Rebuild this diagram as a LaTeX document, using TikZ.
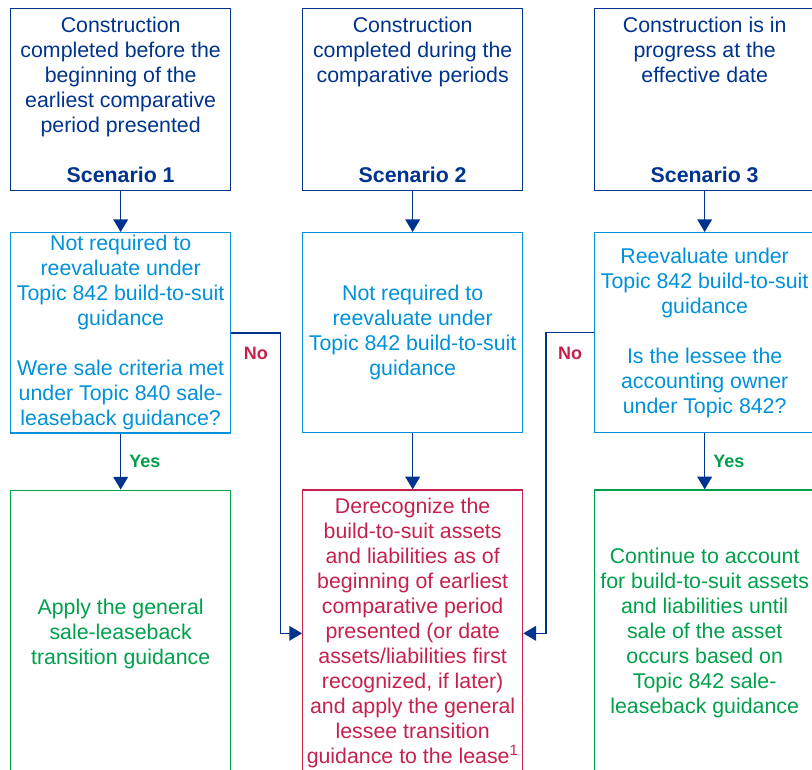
\documentclass[tikz,border=0pt]{standalone}
\usepackage{fontspec}
\setmainfont{Liberation Sans}
\usetikzlibrary{arrows.meta,positioning}
\definecolor{scenblue}{HTML}{00338D}
\definecolor{evalblue}{HTML}{0091DA}
\definecolor{derecred}{HTML}{C6214C}
\definecolor{applygreen}{HTML}{00A04B}
\begin{document}
\begin{tikzpicture}[>={Triangle[width=11pt,length=9.5pt]}, node distance=30.5pt and 53pt, every node/.style={font=\fontsize{16}{18.75}\selectfont},
  box/.style={draw, line width=1pt, align=center, minimum width=165pt, inner sep=2pt},
  scen/.style={box, draw=scenblue, text=scenblue, minimum height=136.5pt},
  evalbox/.style={box, draw=evalblue, text=evalblue, minimum height=150pt},
  derec/.style={box, draw=derecred, text=derecred, minimum height=215pt},
  apply/.style={box, draw=applygreen, text=applygreen, minimum height=215pt},
  flow/.style={->, line width=1.1pt, scenblue},
  yeslabel/.style={font=\fontsize{13.5}{16}\selectfont\bfseries, text=applygreen, inner sep=0pt},
  nolabel/.style={font=\fontsize{13.5}{16}\selectfont\bfseries, text=derecred, inner sep=0pt}]
\useasboundingbox (0,0) rectangle (609pt,-576.75pt);
\node[scen, anchor=north west] (s1) at (7.5pt,-6pt) {Construction\\completed before the\\beginning of the\\earliest comparative\\period presented\\[18.75pt]\textbf{Scenario 1}};
\node[scen, right=of s1] (s2) {Construction\\completed during the\\comparative periods\\[56.25pt]\textbf{Scenario 2}};
\node[scen, right=of s2] (s3) {Construction is in\\progress at the\\effective date\\[56.25pt]\textbf{Scenario 3}};
\node[evalbox, below=of s1] (q1) {Not required to\\reevaluate under\\Topic 842 build-to-suit\\guidance\\[18.75pt]Were sale criteria met\\under Topic 840 sale-\\leaseback guidance?};
\node[evalbox, below=of s2] (q2) {Not required to\\reevaluate under\\Topic 842 build-to-suit\\guidance};
\node[evalbox, below=of s3] (q3) {Reevaluate under\\Topic 842 build-to-suit\\guidance\\[18.75pt]Is the lessee the\\accounting owner\\under Topic 842?};
\node[apply, below=42pt of q1] (a1) {Apply the general\\sale-leaseback\\transition guidance};
\node[derec, below=42pt of q2] (d2) {Derecognize the\\build-to-suit assets\\and liabilities as of\\beginning of earliest\\comparative period\\presented (or date\\assets/liabilities first\\recognized, if later)\\and apply the general\\lessee transition\\guidance to the lease\textsuperscript{1}};
\node[apply, below=42pt of q3] (a3) {Continue to account\\for build-to-suit assets\\and liabilities until\\sale of the asset\\occurs based on\\Topic 842 sale-\\leaseback guidance};
\draw[flow] (s1) -- (q1);
\draw[flow] (s2) -- (q2);
\draw[flow] (s3) -- (q3);
\draw[flow] (q1) -- node[yeslabel, right=6pt] (yes1) {Yes} (a1);
\draw[flow] (q2) -- (d2);
\draw[flow] (q3) -- node[yeslabel, right=6pt] (yes3) {Yes} (a3);
\draw[flow] (q1.east) -- ++(36.75pt,0) node[midway, nolabel, below=10pt] (no1) {No} |- (d2.west);
\draw[flow] (q3.west) -- ++(-36pt,0) node[midway, nolabel, below=10pt] (no3) {No} |- (d2.east);
\end{tikzpicture}
\end{document}
